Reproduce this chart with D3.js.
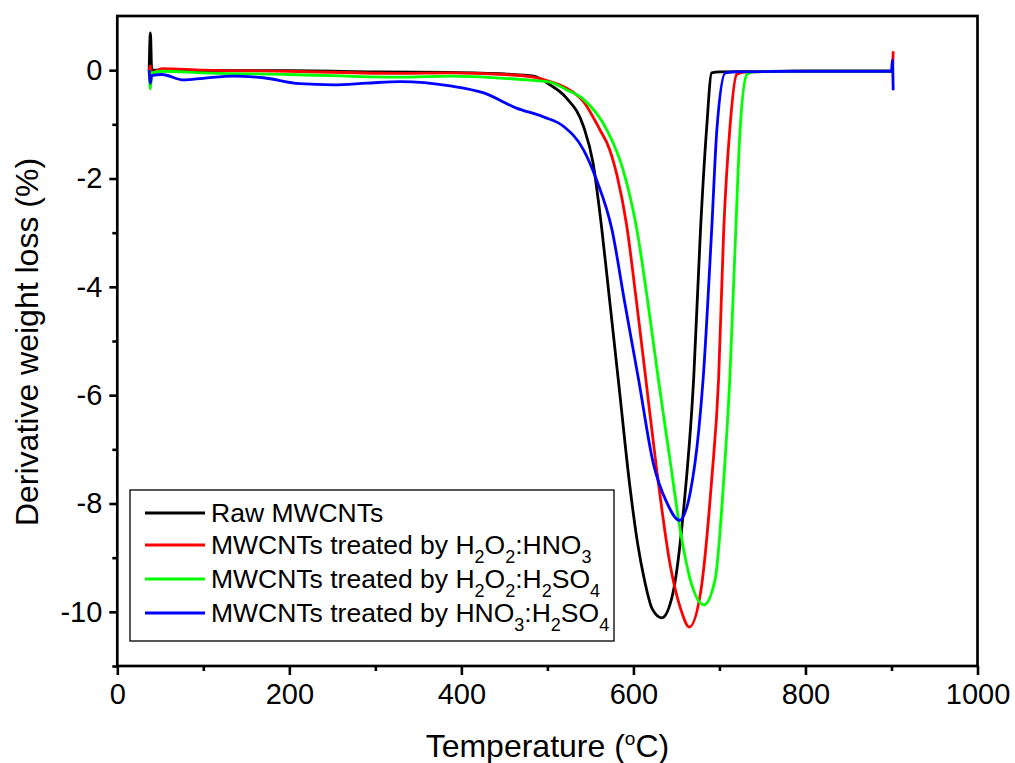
<!DOCTYPE html>
<meta charset="utf-8">
<style>
body { margin: 0; background: #fff; }
text { font-family: "Liberation Sans", Arial, sans-serif; fill: #000; }
.line { fill: none; stroke-width: 2.8px; stroke-linejoin: round; }
.axis path { display: none; }
.axis line { stroke: #000; stroke-width: 2.6px; }
.axis text { font-size: 29px; }
</style>
<svg width="1015" height="763"></svg>
<script src="https://d3js.org/d3.v7.min.js"></script>
<script>

// Raw MWCNTs
var rawT = [37, 38.5, 40, 50, 100, 200, 300, 387, 450, 484, 503, 522, 542, 553, 563, 572, 583, 596, 605, 612, 622, 633, 646, 658, 670, 678, 685, 691, 700, 800, 900, 902];
var rawV = [0, 0.69, 0, 0.0, -0.01, -0.01, -0.03, -0.04, -0.07, -0.11, -0.27, -0.51, -1.04, -1.71, -2.9, -4.2, -5.8, -7.7, -8.75, -9.35, -9.95, -10.11, -9.65, -8.17, -5.71, -2.94, -1.1, -0.05, -0.03, -0.02, -0.02, 0.02];

// H2O2:HNO3
var hnoT = [37, 38.5, 40, 52, 100, 200, 329, 387, 450, 484, 503, 522, 542, 561, 572, 581, 592, 603, 614, 627, 643, 655, 665, 678, 691, 699, 705, 712, 720, 730, 800, 901, 902];
var hnoV = [0, 0.08, -0.05, 0.03, 0.0, -0.02, -0.06, -0.05, -0.08, -0.13, -0.21, -0.33, -0.58, -1.1, -1.45, -1.95, -2.85, -4.2, -5.65, -7.37, -9.16, -9.95, -10.28, -9.65, -7.56, -5.71, -2.94, -1.1, -0.08, -0.03, -0.02, -0.02, 0.35];

// H2O2:H2SO4
var hsoT = [37, 38.5, 40, 52, 100, 200, 329, 387, 450, 484, 503, 522, 542, 569, 588, 604, 616, 629, 643, 654, 666, 682, 695, 705, 712, 719, 724, 732, 740, 800, 900, 902];
var hsoV = [0, -0.35, -0.05, -0.02, -0.05, -0.08, -0.13, -0.11, -0.15, -0.19, -0.22, -0.36, -0.54, -1.1, -1.84, -2.94, -4.2, -5.71, -7.25, -8.45, -9.4, -9.87, -9.4, -7.56, -5.71, -2.94, -1.1, -0.08, -0.03, -0.02, -0.02, 0.05];

// HNO3:H2SO4
var mixT = [37, 38.5, 40, 52, 77, 100, 135, 170, 212, 251, 290, 329, 387, 426, 464, 495, 519, 542, 557, 575, 590, 606, 623, 639, 653.5, 666, 676, 681, 691, 697, 707, 720, 800, 900, 901, 902];
var mixV = [0, -0.24, -0.1, -0.08, -0.18, -0.15, -0.11, -0.14, -0.25, -0.27, -0.24, -0.21, -0.29, -0.42, -0.7, -0.86, -1.04, -1.47, -2.02, -2.94, -4.3, -5.71, -7.25, -7.99, -8.31, -7.8, -6.64, -5.71, -2.94, -1.1, -0.05, -0.03, -0.02, -0.02, 0.19, -0.37];

var xTicks = [0, 200, 400, 600, 800, 1000];
var yTicks = [0, -2, -4, -6, -8, -10];

var series = [
  {T: rawT, V: rawV, color: "#000000", label: [["Raw MWCNTs"]]},
  {T: hnoT, V: hnoV, color: "#ff0000", label: [["MWCNTs treated by H"], ["2", 1], ["O"], ["2", 1], [":HNO"], ["3", 1]]},
  {T: hsoT, V: hsoV, color: "#00ff00", label: [["MWCNTs treated by H"], ["2", 1], ["O"], ["2", 1], [":H"], ["2", 1], ["SO"], ["4", 1]]},
  {T: mixT, V: mixV, color: "#0000ff", label: [["MWCNTs treated by HNO"], ["3", 1], [":H"], ["2", 1], ["SO"], ["4", 1]]}
];

var svg = d3.select("svg"),
    margin = {top: 16, right: 37.5, bottom: 97, left: 117.3},
    width = 1015 - margin.left - margin.right,
    height = 763 - margin.top - margin.bottom,
    g = svg.append("g").attr("transform", "translate(" + margin.left + "," + margin.top + ")");

var x = d3.scaleLinear().domain([0, 1000]).range([0, width]),
    y = d3.scaleLinear().domain([-11, 1]).range([height, 0]);

var line = d3.line()
    .curve(d3.curveMonotoneX)
    .x(function(d) { return x(d[0]); })
    .y(function(d) { return y(d[1]); });

// minor ticks
g.append("g")
    .attr("class", "axis")
    .attr("transform", "translate(0," + height + ")")
    .call(d3.axisBottom(x).tickValues(d3.range(100, 1000, 200)).tickSize(5).tickFormat(""));
g.append("g")
    .attr("class", "axis")
    .call(d3.axisLeft(y).tickValues(d3.range(-11, 1, 2)).tickSize(5).tickFormat(""));

// major ticks
g.append("g")
    .attr("class", "axis")
    .attr("transform", "translate(0," + height + ")")
    .call(d3.axisBottom(x).tickValues(xTicks).tickSize(9).tickPadding(8).tickFormat(d3.format("d")));
g.append("g")
    .attr("class", "axis")
    .call(d3.axisLeft(y).tickValues(yTicks).tickSize(8).tickPadding(7).tickFormat(function(d) { return String(d).replace("\u2212", "-"); }));

series.forEach(function(s) {
  g.append("path")
      .attr("class", "line")
      .style("stroke", s.color)
      .attr("d", line(s.T.map(function(t, i) { return [t, s.V[i]]; })));
});

// frame
g.append("rect")
    .attr("width", width)
    .attr("height", height)
    .attr("fill", "none")
    .attr("stroke", "#000")
    .attr("stroke-width", 2.7);

// axis titles
var xt = svg.append("text")
    .attr("x", margin.left + width / 2)
    .attr("y", 757)
    .attr("text-anchor", "middle")
    .style("font-size", "32px");
xt.append("tspan").text("Temperature (");
xt.append("tspan").attr("dy", -12).style("font-size", "19px").text("o");
xt.append("tspan").attr("dy", 12).text("C)");

svg.append("text")
    .attr("transform", "translate(38," + 342 + ") rotate(-90)")
    .attr("text-anchor", "middle")
    .style("font-size", "32px")
    .text("Derivative weight loss (%)");

// legend
var legend = svg.append("g");
legend.append("rect")
    .attr("x", 130).attr("y", 490)
    .attr("width", 484).attr("height", 151)
    .attr("fill", "#fff")
    .attr("stroke", "#000")
    .attr("stroke-width", 1.3);

var rowY = [513, 545, 579, 613];
series.forEach(function(s, i) {
  legend.append("line")
      .attr("x1", 145).attr("x2", 205)
      .attr("y1", rowY[i]).attr("y2", rowY[i])
      .attr("stroke", s.color)
      .attr("stroke-width", 2.8);
  var t = legend.append("text")
      .attr("x", 211)
      .attr("y", rowY[i] + 9)
      .style("font-size", "26.5px");
  var shifted = false;
  s.label.forEach(function(p) {
    var ts = t.append("tspan").text(p[0]);
    if (p[1] && !shifted) { ts.attr("dy", 9).style("font-size", "18px"); shifted = true; }
    else if (!p[1] && shifted) { ts.attr("dy", -9); shifted = false; }
    else if (p[1]) { ts.style("font-size", "18px"); }
  });
});

</script>
